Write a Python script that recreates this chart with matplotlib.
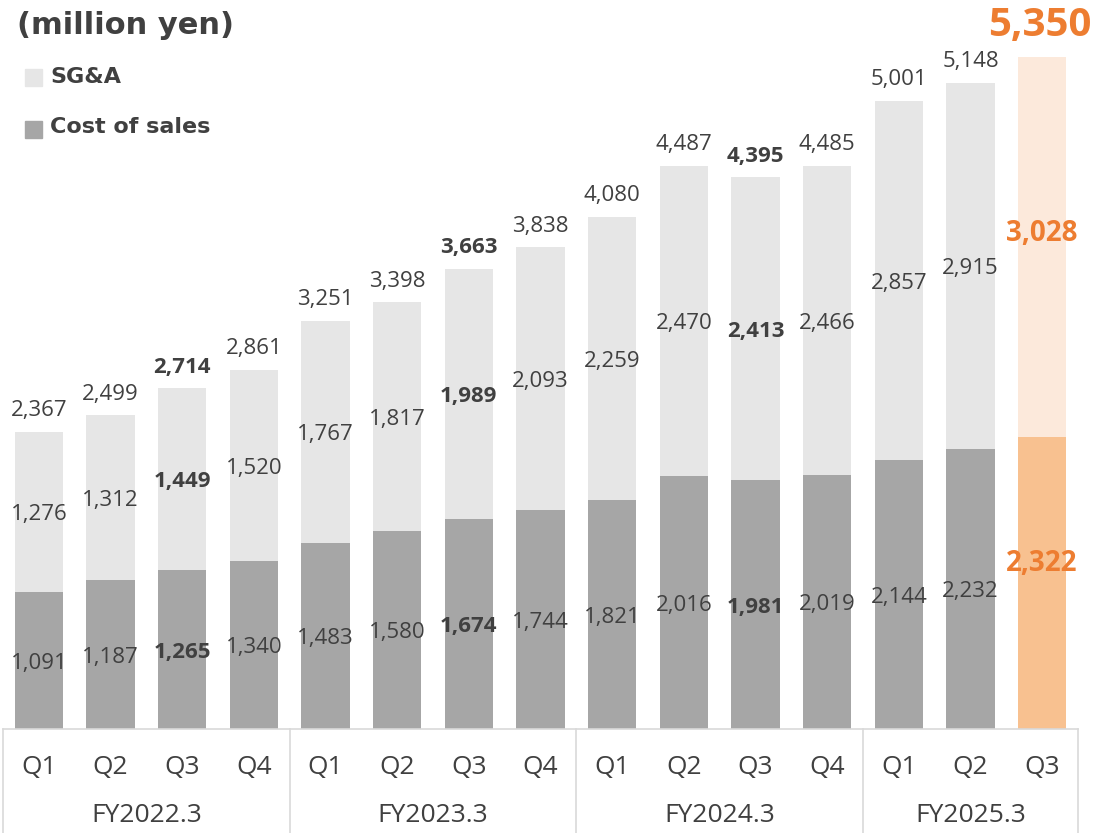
import matplotlib
matplotlib.use("Agg")
import matplotlib.pyplot as plt
from matplotlib.patches import Rectangle
import matplotlib.transforms as mtransforms

plt.rcParams['font.family'] = ['Open Sans', 'DejaVu Sans']

quarters = ["Q1", "Q2", "Q3", "Q4", "Q1", "Q2", "Q3", "Q4", "Q1", "Q2", "Q3", "Q4", "Q1", "Q2", "Q3"]
fiscal_years = ["FY2022.3", "FY2023.3", "FY2024.3", "FY2025.3"]
fy_sizes = [4, 4, 4, 3]
cost_of_sales = [1091, 1187, 1265, 1340, 1483, 1580, 1674, 1744, 1821, 2016, 1981, 2019, 2144, 2232, 2322]
sga = [1276, 1312, 1449, 1520, 1767, 1817, 1989, 2093, 2259, 2470, 2413, 2466, 2857, 2915, 3028]
totals = [2367, 2499, 2714, 2861, 3251, 3398, 3663, 3838, 4080, 4487, 4395, 4485, 5001, 5148, 5350]
bold_idx = [2, 6, 10]
highlight_idx = 14

GRAY_DARK = "#A6A6A6"
GRAY_LIGHT = "#E6E6E6"
OR_DARK = "#F8C190"
OR_LIGHT = "#FCE9DB"
OR_TEXT = "#ED7D31"
TXT = "#404040"
LINE = "#D9D9D9"

fig = plt.figure(figsize=(10.94, 8.33), dpi=100)
ax = fig.add_axes([3/1094, 104/833, 1075/1094, 729/833])
n = len(quarters)
x = list(range(n))
ax.set_xlim(-0.5, n - 0.5)
ax.set_ylim(0, 5804)

c_cols = [OR_DARK if i == highlight_idx else GRAY_DARK for i in x]
s_cols = [OR_LIGHT if i == highlight_idx else GRAY_LIGHT for i in x]
w = 0.67
ax.bar(x, cost_of_sales, width=w, color=c_cols, zorder=2)
ax.bar(x, sga, bottom=cost_of_sales, width=w, color=s_cols, zorder=2)

for i in x:
    c, s, t = cost_of_sales[i], sga[i], totals[i]
    if i == highlight_idx:
        ax.annotate(f"{c:,}", (i, c / 2), xytext=(0, 14), textcoords="offset points",
                    ha="center", va="center", fontsize=20, fontweight="bold", color=OR_TEXT)
        ax.annotate(f"{s:,}", (i, c + s / 2), xytext=(0, 10), textcoords="offset points",
                    ha="center", va="center", fontsize=20, fontweight="bold", color=OR_TEXT)
        ax.annotate(f"{t:,}", (i, t), xytext=(-2, 9), textcoords="offset points",
                    ha="center", va="bottom", fontsize=29, fontweight="bold", color=OR_TEXT)
    else:
        fw = "bold" if i in bold_idx else "normal"
        ax.annotate(f"{c:,}", (i, c / 2), xytext=(0, -2), textcoords="offset points",
                    ha="center", va="center", fontsize=16, fontweight=fw, color=TXT)
        ax.annotate(f"{s:,}", (i, c + s / 2), xytext=(0, -2), textcoords="offset points",
                    ha="center", va="center", fontsize=16, fontweight=fw, color=TXT)
        ax.annotate(f"{t:,}", (i, t), xytext=(0, 7.5), textcoords="offset points",
                    ha="center", va="bottom", fontsize=16, fontweight=fw, color=TXT)

for sp in ["top", "right", "left"]:
    ax.spines[sp].set_visible(False)
ax.spines["bottom"].set_color(LINE)
ax.spines["bottom"].set_linewidth(1.2)
ax.set_xticks([])
ax.set_yticks([])

trans = mtransforms.blended_transform_factory(ax.transData, ax.transAxes)
ax_h_px = 729
for i, q in enumerate(quarters):
    ax.text(i, -39 / ax_h_px, q, transform=trans, ha="center", va="center",
            fontsize=19, color=TXT)
start = 0
bounds = [-0.5]
for fy, sz in zip(fiscal_years, fy_sizes):
    mid = start + (sz - 1) / 2
    ax.text(mid, -86 / ax_h_px, fy, transform=trans, ha="center", va="center",
            fontsize=19, color=TXT)
    start += sz
    bounds.append(start - 0.5)
for b in bounds:
    ax.plot([b, b], [0, -104 / ax_h_px], transform=trans, color=LINE, lw=1.2, clip_on=False)

fig.text(17 / 1094, 1 - 25 / 833, "(million yen)", ha="left", va="center",
         fontsize=22, fontweight="bold", color=TXT, family="DejaVu Sans")
fig.patches.append(Rectangle((25 / 1094, 1 - 86 / 833), 17 / 1094, 17 / 833,
                             transform=fig.transFigure, color=GRAY_LIGHT))
fig.text(50 / 1094, 1 - 77 / 833, "SG&A", ha="left", va="center",
         fontsize=16, fontweight="bold", color=TXT, family="DejaVu Sans")
fig.patches.append(Rectangle((25 / 1094, 1 - 138 / 833), 17 / 1094, 17 / 833,
                             transform=fig.transFigure, color=GRAY_DARK))
fig.text(50 / 1094, 1 - 127 / 833, "Cost of sales", ha="left", va="center",
         fontsize=16, fontweight="bold", color=TXT, family="DejaVu Sans")

fig.savefig("out.png", dpi=100)
